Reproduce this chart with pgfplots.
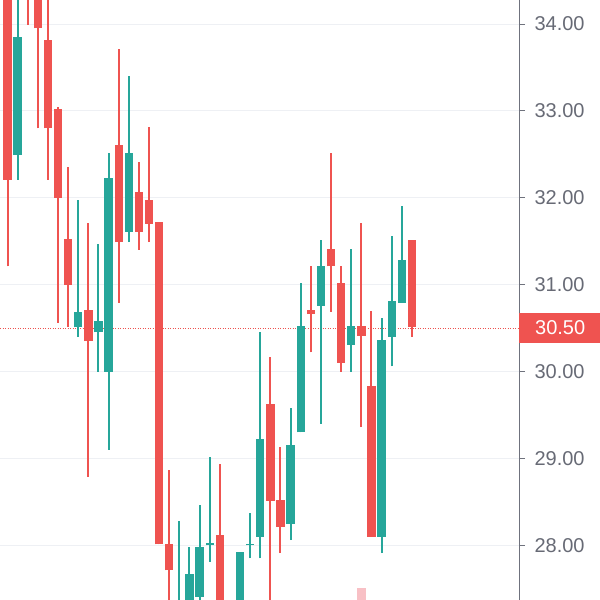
\documentclass[border=0pt]{standalone}
\usepackage{fontspec}
\setmainfont{Liberation Sans}
\usepackage{pgfplots}
\usepackage{pgfplotstable}
\pgfplotsset{compat=1.18}

\definecolor{up}{HTML}{26A69A}
\definecolor{down}{HTML}{EF5350}
\definecolor{gridc}{HTML}{EEF0F4}
\definecolor{scalec}{HTML}{6F727D}
\definecolor{lblc}{HTML}{676A75}
\definecolor{volc}{HTML}{F8C0C5}

% candles: x = bar index, lo/hi = wick, bb/bt = body bottom/top
\pgfplotstableread{
x  lo     hi     bb     bt
2  32.21  34.40  32.49  33.85
8  30.40  31.98  30.51  30.68
10 30.00  31.47  30.45  30.58
11 29.10  32.52  30.00  32.23
13 31.49  33.40  31.61  32.52
18 26.90  28.28  27.00  27.30
19 27.00  27.98  27.20  27.67
20 27.20  28.46  27.41  27.98
21 27.81  29.02  28.00  28.03
24 27.00  27.92  27.20  27.92
25 27.85  28.37  28.00  28.02
26 27.85  30.46  28.10  29.22
29 28.06  29.58  28.25  29.16
30 29.30  31.02  29.30  30.52
32 29.40  31.51  30.76  31.22
35 30.00  31.41  30.31  30.52
38 27.91  30.62  28.10  30.36
39 30.06  31.56  30.40  30.81
40 30.79  31.91  30.79  31.28
}\upcandles

\pgfplotstableread{
x  lo     hi     bb     bt
1  31.21  34.80  32.21  34.60
3  33.99  35.00  34.40  34.90
4  32.80  34.70  33.95  34.50
5  32.21  34.35  32.80  33.82
6  30.56  33.05  32.00  33.02
7  30.51  32.36  31.00  31.52
9  28.79  31.71  30.35  30.71
12 30.79  33.71  31.49  32.61
14 31.40  32.41  31.61  32.07
15 31.49  32.81  31.70  31.97
16 28.01  31.72  28.01  31.72
17 27.20  28.87  27.71  28.02
22 27.00  28.93  27.20  28.12
23 26.80  27.30  26.95  27.10
27 27.20  30.17  28.51  29.63
28 27.91  29.13  28.21  28.52
31 30.22  31.22  30.66  30.71
33 30.69  32.52  31.21  31.41
34 30.00  31.22  30.10  31.02
36 29.36  31.71  30.41  30.52
37 28.10  30.70  28.10  29.83
41 30.40  31.51  30.51  31.51
}\downcandles

\pgfplotsset{
  candle/.style n args={2}{draw=none, no markers, forget plot,
    error bars/.cd, y dir=plus, y explicit, error mark=none,
    error bar style={draw=#1, line width=#2}},
}

\begin{document}
\begin{tikzpicture}
\useasboundingbox (0,0) rectangle (600pt,600pt);
\begin{axis}[
  scale only axis, width=519pt, height=600pt,
  xmin=0.258, xmax=51.59, ymin=27.37, ymax=34.277,
  axis x line=none, axis y line=right,
  y axis line style={-, draw=scalec, line width=1pt},
  xtick={7.2,25.2,47.2}, xticklabels={},
  ytick={28,29,...,34},
  xmajorgrids, ymajorgrids,
  grid style={gridc, line width=1pt},
  tick align=outside, major tick length=6pt,
  major tick style={scalec, line width=1pt},
  yticklabel style={font=\fontsize{20}{24}\selectfont, text=lblc, xshift=6pt},
  /pgf/number format/.cd, fixed, fixed zerofill, precision=2, assume math mode=true,
  /pgfplots/.cd,
  clip mode=individual,
]
% last price line
\addplot[down, line width=0.8pt, dash pattern=on 1pt off 1.5pt, forget plot]
  coordinates {(0.258,30.5) (51.59,30.5)};
% volume bar peeking in at the bottom
\addplot[candle={volc}{8.3pt}] coordinates {(36,27.2) +- (0,0.31)};
% wicks
\addplot[candle={up}{2pt}]
  table[x=x, y=lo, y error plus expr=\thisrow{hi}-\thisrow{lo}] {\upcandles};
\addplot[candle={down}{2pt}]
  table[x=x, y=lo, y error plus expr=\thisrow{hi}-\thisrow{lo}] {\downcandles};
% bodies
\addplot[candle={up}{8.3pt}]
  table[x=x, y=bb, y error plus expr=\thisrow{bt}-\thisrow{bb}] {\upcandles};
\addplot[candle={down}{8.3pt}]
  table[x=x, y=bb, y error plus expr=\thisrow{bt}-\thisrow{bb}] {\downcandles};
% last price label
\node[fill=down, text=white, anchor=west, minimum width=82pt, minimum height=30pt,
      inner sep=0pt, font=\fontsize{20}{24}\selectfont]
  at (axis cs:51.59,30.5) {30.50};
\end{axis}
\end{tikzpicture}
\end{document}
